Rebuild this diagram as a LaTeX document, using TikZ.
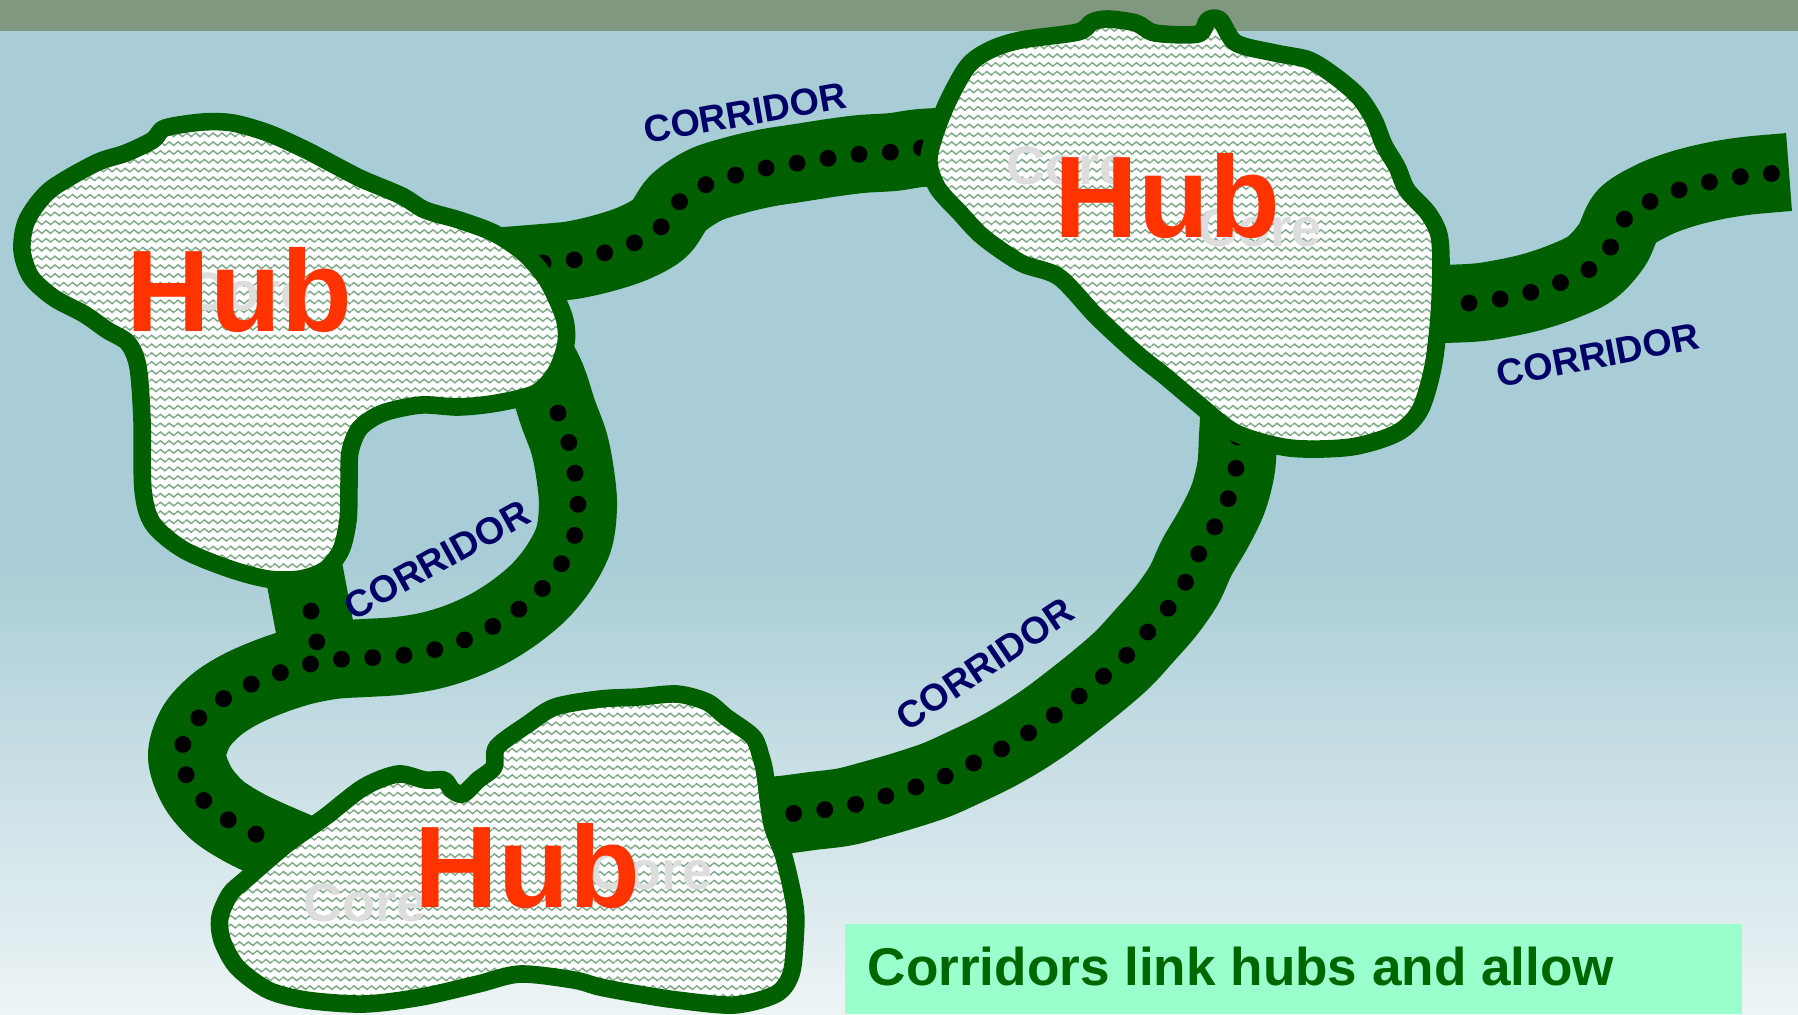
\documentclass[tikz,border=0pt]{standalone}
\usepackage{fontspec}
\setmainfont{Liberation Sans}
\usetikzlibrary{patterns.meta}

\definecolor{barcol}{HTML}{809880}
\definecolor{skyblue}{HTML}{A9CDD6}
\definecolor{skylight}{HTML}{EDF4F6}
\definecolor{corrgreen}{HTML}{006000}
\definecolor{wavegreen}{HTML}{7FA888}
\definecolor{hubred}{HTML}{FF3300}
\definecolor{ghost}{HTML}{DDDDDD}
\definecolor{labelnavy}{HTML}{000066}
\definecolor{notebg}{HTML}{99FFCC}
\definecolor{notetext}{HTML}{006600}

% fine wavy hatching used inside the hubs
\tikzdeclarepattern{
  name=hubwaves,
  type=colored,
  bounding box={(0pt,-0.9pt) and (2.5pt,0.9pt)},
  tile size={(2.5pt,2.5pt)},
  code={
    \draw[wavegreen, line width=0.42pt] (0pt,0pt) sin (0.625pt,0.5pt) cos (1.25pt,0pt)
      sin (1.875pt,-0.5pt) cos (2.5pt,0pt);
  }
}

\tikzset{
  band/.style={draw=corrgreen, line width=22.2pt, line cap=butt, line join=round},
  dotrow/.style={draw=black, line width=4.8pt, line cap=round, dash pattern=on 0.01pt off 8.9pt},
  hub/.style={draw=corrgreen, line width=5pt, line join=round,
    preaction={fill=white}, preaction={pattern=hubwaves}},
  hubword/.style={text=hubred, font=\bfseries\fontsize{33pt}{36pt}\selectfont,
    anchor=base west, inner sep=0pt},
  coreword/.style={text=ghost, font=\bfseries\fontsize{15.4pt}{17pt}\selectfont,
    anchor=base west, inner sep=0pt},
  corrlabel/.style={text=labelnavy, font=\bfseries\fontsize{10.7pt}{12pt}\selectfont,
    inner sep=0pt},
}

\begin{document}
\begin{tikzpicture}[x=0.01cm, y=-0.01cm]
\useasboundingbox (0,0) rectangle (1798,1014);
\clip (0,0) rectangle (1798,1014);

% sky and title bar
\fill[skyblue] (0,0) rectangle (1798,1014);
\shade[top color=skyblue, bottom color=skylight] (0,560) rectangle (1798,1014);
\fill[barcol] (0,0) rectangle (1798,31);

% corridor bands
\draw[band] plot[smooth, tension=0.55] coordinates {(505,266) (543,263) (573,260) (604,253)
  (634,243) (660,228) (678,203) (705,185) (736,175) (766,168) (798,163) (830,158) (861,154)
  (893,152) (921,148) (965,146)};
\draw[band] plot[smooth, tension=0.55] coordinates {(1400,305) (1469,303) (1500,299)
  (1532,292) (1562,282) (1591,268) (1612,245) (1626,217) (1653,200) (1682,189) (1714,181)
  (1745,176) (1777,173) (1789,172)};
\draw[band] plot[smooth, tension=0.55] coordinates {(1240,400) (1238,437) (1236,468)
  (1228,499) (1214,528) (1197,557) (1184,585) (1166,611) (1145,635) (1123,659) (1099,680)
  (1074,700) (1049,719) (1022,737) (994,753) (965,767) (936,780) (906,790) (875,799)
  (844,807) (812,811) (781,815) (740,818)};
\draw[band] plot[smooth, tension=0.55] coordinates {(520,330) (545,375) (558,413) (569,443)
  (575,473) (578,505) (574,538) (560,566) (540,591) (515,612) (488,629) (459,642) (429,651)
  (397,656) (365,658) (333,660) (302,666) (271,676) (241,689) (216,705) (196,727) (187,756)
  (197,786) (217,810) (243,827) (270,840) (305,855)};
\draw[band] (300,550) -- (323,672);

% dotted trails along the corridors
\draw[dotrow] plot[smooth, tension=0.55] coordinates {(543,263) (573,260) (604,253) (634,243)
  (660,228) (678,203) (705,185) (736,175) (766,168) (798,163) (830,158) (861,154) (893,152)
  (921,148) (945,147)};
\draw[dotrow] plot[smooth, tension=0.55] coordinates {(1469,303) (1500,299) (1532,292)
  (1562,282) (1591,268) (1612,245) (1626,217) (1653,200) (1682,189) (1714,181) (1745,176)
  (1777,173) (1789,172)};
\draw[dotrow] plot[smooth, tension=0.55] coordinates {(1238,437) (1236,468) (1228,499)
  (1214,528) (1197,557) (1184,585) (1166,611) (1145,635) (1123,659) (1099,680) (1074,700)
  (1049,719) (1022,737) (994,753) (965,767) (936,780) (906,790) (875,799) (844,807)
  (812,811) (781,815) (755,817)};
\draw[dotrow] plot[smooth, tension=0.55] coordinates {(558,413) (569,443) (575,473) (578,505)
  (574,538) (560,566) (540,591) (515,612) (488,629) (459,642) (429,651) (397,656) (365,658)
  (333,660) (302,666) (271,676) (241,689) (214,705) (191,727) (181,756) (192,786) (214,810)
  (241,827) (270,840) (290,848)};
\draw[dotrow] (311,611) -- (317.5,645);

% hub upper left
\draw[hub] plot[smooth cycle, tension=0.5] coordinates {(22,250) (27,220) (50,190) (96,163)
  (126,153) (153,140) (165,128) (203,122) (233,123) (268,133) (306,150) (344,170) (364,180)
  (402,196) (425,210) (459,220) (494,233) (524,253) (547,280) (564,317) (566,343) (556,372)
  (536,393) (497,403) (459,407) (421,405) (383,413) (360,428) (350,452) (349,485) (348,520)
  (341,550) (325,570) (300,579) (268,579) (230,569) (184,550) (153,524) (143,490) (142,420)
  (138,367) (128,343) (107,330) (84,314) (54,298) (31,277)};

% hub upper right
\draw[hub] plot[smooth cycle, tension=0.5] coordinates {(944,110) (967,67) (990,50) (1021,40)
  (1078,32) (1092,22) (1108,19) (1136,23) (1155,33) (1198,34) (1208,20) (1220,20) (1236,43)
  (1275,53) (1309,60) (1336,77) (1359,97) (1374,120) (1384,145) (1397,167) (1407,190)
  (1428,213) (1439,235) (1441,267) (1439,317) (1433,367) (1420,410) (1397,433) (1351,447)
  (1290,448) (1236,433) (1197,403) (1166,377) (1136,353) (1097,317) (1059,277) (1021,263)
  (983,237) (960,213) (937,187) (929,157)};

% hub bottom
\draw[hub] plot[smooth cycle, tension=0.5] coordinates {(245,880) (287,844) (325,817)
  (364,787) (398,774) (425,780) (444,780) (452,790) (463,794) (478,780) (494,767) (497,747)
  (528,724) (555,707) (600,699) (638,697) (677,694) (707,702) (726,717) (753,737) (761,757)
  (765,774) (772,824) (784,857) (795,907) (795,940) (791,974) (776,994) (734,1005) (677,1000)
  (638,994) (600,987) (574,980) (520,974) (478,984) (421,997) (364,1004) (306,1000) (268,990)
  (237,967) (222,940) (220,917) (230,894)};

% faint core labels
\node[coreword] (coreA) at (187,310) {Core};
\node[coreword] (coreB) at (1006,184) {Core};
\node[coreword] (coreC) at (1198,246) {Core};
\node[coreword] (coreD) at (303,921) {Core};
\node[coreword] (coreE) at (589,889) {Core};

% hub names
\node[hubword] (hubA) at (126,331) {Hub};
\node[hubword] (hubB) at (1054,237) {Hub};
\node[hubword] (hubC) at (414,907) {Hub};

% corridor labels
\node[corrlabel, rotate=10] (corrA) at (745,113) {CORRIDOR};
\node[corrlabel, rotate=11] (corrB) at (1598,355) {CORRIDOR};
\node[corrlabel, rotate=29] (corrC) at (437,560) {CORRIDOR};
\node[corrlabel, rotate=34] (corrD) at (985,664) {CORRIDOR};

% caption panel
\fill[notebg] (845,924) rectangle (1742,1014);
\node[anchor=base west, inner sep=0pt, text=notetext,
  font=\bfseries\fontsize{15.1pt}{18pt}\selectfont] (note) at (867,985)
  {Corridors link hubs and allow};
\end{tikzpicture}
\end{document}
